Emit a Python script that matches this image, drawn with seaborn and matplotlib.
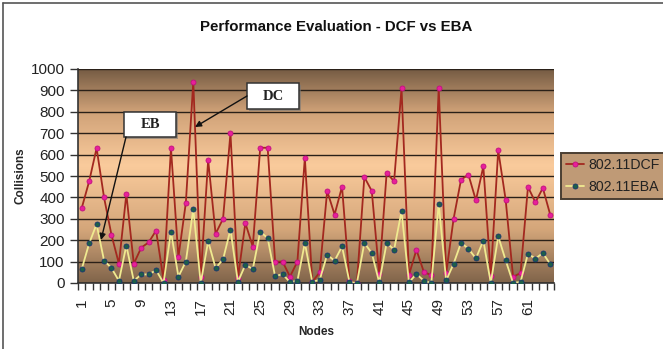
import numpy as np
import pandas as pd
import matplotlib
matplotlib.use("Agg")
import matplotlib.pyplot as plt
import seaborn as sns
from matplotlib.patches import Rectangle
from matplotlib.lines import Line2D

nodes = list(range(1, 65))
dcf = [350, 475, 630, 400, 225, 90, 415, 90, 165, 190, 245, 15, 630, 120, 375, 940,
       28, 575, 230, 300, 700, 22, 280, 170, 632, 632, 100, 100, 30, 100, 585, 5,
       50, 430, 320, 450, 8, 0, 495, 430, 40, 515, 475, 910, 38, 155, 52, 36,
       912, 45, 300, 483, 506, 386, 545, 34, 620, 389, 28, 47, 449, 377, 444, 318]
eba = [65, 185, 275, 105, 70, 10, 175, 10, 40, 40, 60, 0, 240, 30, 100, 345,
       0, 195, 70, 110, 250, 5, 85, 65, 240, 210, 31, 42, 4, 10, 187, 5,
       15, 132, 104, 171, 5, 0, 187, 140, 3, 187, 156, 335, 3, 42, 11, 0,
       369, 12, 90, 188, 160, 115, 198, 0, 218, 106, 0, 5, 137, 114, 140, 88]
series_names = ["802.11DCF", "802.11EBA"]
yticks = list(range(0, 1001, 100))
xtick_labels = list(range(1, 65, 4))
title = "Performance Evaluation - DCF vs EBA"
xlabel = "Nodes"
ylabel = "Collisions"

sns.set_theme(style="white")
plt.rcParams["font.family"] = ["Liberation Sans", "DejaVu Sans"]

W, H = 663, 349
fig = plt.figure(figsize=(W / 100, H / 100), dpi=100)
fig.patch.set_facecolor("white")
L, R, T, B = 78, 554, 69, 283
ax = fig.add_axes([L / W, 1 - B / H, (R - L) / W, (B - T) / H])

# background gradient (dark - light peach - dark)
stops = np.array([0.0, 0.25, 0.55, 0.8, 1.0])
cols = np.array([[128, 100, 74], [212, 166, 122], [250, 203, 156], [208, 162, 120], [118, 92, 68]]) / 255.0
t = np.linspace(0, 1, 256)
grad = np.stack([np.interp(t, stops, cols[:, i]) for i in range(3)], axis=-1)[:, None, :]
ax.imshow(grad, extent=(0.5, 64.5, 0, 1000), aspect="auto", origin="lower", zorder=0, interpolation="bilinear")

df = pd.DataFrame({"Node": nodes, "DCF": dcf, "EBA": eba})
sns.lineplot(data=df, x="Node", y="DCF", ax=ax, color="#a3281f", lw=1.3,
             marker="o", markersize=3.6, markerfacecolor="#e8209a", markeredgecolor="#c01080",
             markeredgewidth=0.6, label=series_names[0], zorder=4)
sns.lineplot(data=df, x="Node", y="EBA", ax=ax, color="#f0ea90", lw=1.3,
             marker="o", markersize=3.6, markerfacecolor="#1d6048", markeredgecolor="#1a3570",
             markeredgewidth=0.6, label=series_names[1], zorder=4)

ax.set_xlim(0.5, 64.5)
ax.set_ylim(0, 1000)
ax.set_yticks(yticks)
ax.set_xticks(xtick_labels)
ax.set_xticks(np.arange(0.5, 65, 1), minor=True)
ax.yaxis.grid(True, color="#2a2018", lw=1.0, zorder=1)
ax.xaxis.grid(False)
ax.set_axisbelow(False)
for gl in ax.get_ygridlines():
    gl.set_zorder(1)

ax.tick_params(axis="y", which="major", direction="out", length=6, width=1, color="#333333",
               pad=3.5, left=True, labelsize=11, labelcolor="#222222")
ax.tick_params(axis="x", which="major", length=0, pad=11, labelsize=11, labelcolor="#222222", labelrotation=90)
ax.tick_params(axis="x", which="minor", direction="out", length=5, width=1, color="#333333", bottom=True)
for s in ["top", "right"]:
    ax.spines[s].set_visible(False)
for s in ["left", "bottom"]:
    ax.spines[s].set_color("#333333")
    ax.spines[s].set_linewidth(1.2)

ax.set_xlabel(xlabel, fontsize=8.5, fontweight="bold")
ax.set_ylabel(ylabel, fontsize=8.5, fontweight="bold")
ax.xaxis.set_label_coords((316 - L) / (R - L), -(326 - B) / (B - T))
ax.yaxis.set_label_coords((26 - L) / (R - L), (B - 176) / (B - T))

fig.text(336 / W, 1 - 27 / H, title, ha="center", va="center", fontsize=10.8,
         fontweight="bold", color="#111111")

# annotation boxes
def box(x0, y0, x1, y1, txt):
    fx0, fx1 = (x0 - L) / (R - L), (x1 - L) / (R - L)
    fy0, fy1 = (B - y1) / (B - T), (B - y0) / (B - T)
    dx, dy = 1.5 / (R - L), 1.5 / (B - T)
    ax.add_patch(Rectangle((fx0 + dx, fy0 - dy), fx1 - fx0, fy1 - fy0, transform=ax.transAxes,
                           facecolor="#777777", edgecolor="none", zorder=5, alpha=0.6))
    ax.add_patch(Rectangle((fx0, fy0), fx1 - fx0, fy1 - fy0, transform=ax.transAxes,
                           facecolor="white", edgecolor="#333333", lw=1.1, zorder=6))
    ax.text((fx0 + fx1) / 2, (fy0 + fy1) / 2, txt, transform=ax.transAxes, ha="center", va="center",
            fontsize=10.5, fontweight="bold", family=["Liberation Serif", "DejaVu Serif"], color="#222222", zorder=7)

def arrow(sx, sy, tx, ty):
    ax.annotate("", xy=((tx - L) / (R - L), (B - ty) / (B - T)), xycoords="axes fraction",
                xytext=((sx - L) / (R - L), (B - sy) / (B - T)), textcoords="axes fraction",
                arrowprops=dict(arrowstyle="-|>", color="#111111", lw=1.0, mutation_scale=9,
                                shrinkA=0, shrinkB=0), zorder=7)

box(247, 83, 299, 109, "DC")
box(124, 112, 176, 137, "EB")
arrow(247, 96, 195, 127)
arrow(126, 137, 101, 240)

leg = ax.legend(loc="upper left", bbox_to_anchor=(560.7 / W, 1 - 153.3 / H), bbox_transform=fig.transFigure,
                borderaxespad=0, fontsize=10.2, frameon=True, fancybox=False, handlelength=1.3,
                handletextpad=0.3, borderpad=0.35, labelspacing=0.55)
leg.get_frame().set_facecolor("#bf9a76")
leg.get_frame().set_edgecolor("#4a3e32")
leg.get_frame().set_linewidth(1.4)
leg.get_frame().set_alpha(1)
leg.set_zorder(10)
for txt in leg.get_texts():
    txt.set_color("#222222")

# outer frame (top and left visible)
fig.add_artist(Line2D([3 / W, 3 / W], [0, 1 - 3 / H], transform=fig.transFigure, color="#555555", lw=1.2))
fig.add_artist(Line2D([3 / W, 1], [1 - 3 / H, 1 - 3 / H], transform=fig.transFigure, color="#555555", lw=1.2))

fig.savefig("out.png", dpi=100)
